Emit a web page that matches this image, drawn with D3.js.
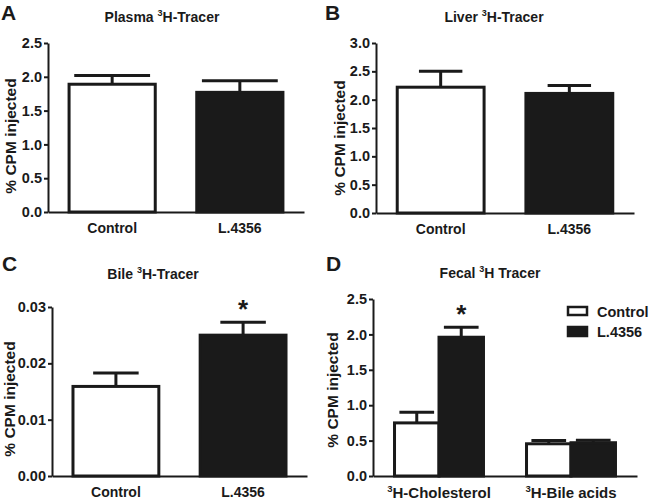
<!DOCTYPE html>
<html>
<head>
<meta charset="utf-8">
<script src="https://cdn.jsdelivr.net/npm/d3@7"></script>
<style>
  html, body { margin: 0; padding: 0; background: #fff; }
  svg { display: block; font-family: Arial, "Liberation Sans", Helvetica, sans-serif; }
</style>
</head>
<body>
<svg id="chart" width="650" height="502"></svg>
<script>
// ---------------- DATA ----------------
const groups = ["Control", "L.4356"];

const plasmaMean = [1.89, 1.77];
const plasmaSEM  = [0.13, 0.17];
const plasmaTicks = [0, 0.5, 1.0, 1.5, 2.0, 2.5];

const liverMean = [2.22, 2.11];
const liverSEM  = [0.28, 0.14];
const liverTicks = [0, 0.5, 1.0, 1.5, 2.0, 2.5, 3.0];

const bileMean = [0.0159, 0.0250];
const bileSEM  = [0.0024, 0.0023];
const bileTicks = [0, 0.01, 0.02, 0.03];
const bileStars = [false, true];

const fecalCategories = ["Cholesterol", "Bile acids"];
const fecalControlMean = [0.75, 0.455];
const fecalControlSEM  = [0.15, 0.045];
const fecalL4356Mean   = [1.96, 0.47];
const fecalL4356SEM    = [0.14, 0.035];
const fecalTicks = [0, 0.5, 1.0, 1.5, 2.0, 2.5];
const fecalStars = [[false, true], [false, false]];

const yLabel = "% CPM injected";
const groupColors = ["#ffffff", "#1a1a1a"];
const ink = "#1a1a1a";

// ---------------- DRAWING ----------------
const svg = d3.select("#chart");

function titleWithSup(g, x, y, pre, post) {
  const t = g.append("text").attr("x", x).attr("y", y)
    .attr("text-anchor", "middle").attr("font-size", 14).attr("font-weight", "bold").attr("fill", ink);
  t.append("tspan").text(pre);
  t.append("tspan").attr("font-size", 9).attr("dy", -6).text("3");
  t.append("tspan").attr("dy", 6).text(post);
}

function drawYAxis(g, y, x0, ticks, fmt, labelX, labelY) {
  const ax = g.append("g").attr("transform", `translate(${x0},0)`)
    .call(d3.axisLeft(y).tickValues(ticks).tickFormat(fmt).tickSize(4).tickSizeOuter(0).tickPadding(2));
  ax.select(".domain").attr("stroke", ink).attr("stroke-width", 2);
  ax.selectAll(".tick line").attr("stroke", ink).attr("stroke-width", 2);
  ax.selectAll(".tick text").attr("font-size", 14.5).attr("font-weight", "bold").attr("fill", ink)
    .attr("font-family", "Arial, 'Liberation Sans', sans-serif");
  g.append("text").attr("transform", `translate(${labelX},${labelY}) rotate(-90)`)
    .attr("text-anchor", "middle").attr("dy", "0.35em")
    .attr("font-size", 15.5).attr("font-weight", "bold").attr("fill", ink).text(yLabel);
}

function drawXAxis(g, x, y0, superscript) {
  const ax = g.append("g").attr("transform", `translate(0,${y0})`)
    .call(d3.axisBottom(x).tickSize(0).tickSizeOuter(0).tickPadding(11));
  ax.select(".domain").attr("stroke", ink).attr("stroke-width", 2);
  ax.selectAll(".tick text").attr("font-size", 14).attr("font-weight", "bold").attr("fill", ink)
    .attr("font-family", "Arial, 'Liberation Sans', sans-serif");
  if (superscript) {
    ax.selectAll(".tick text").each(function(d) {
      const t = d3.select(this);
      t.text(null).attr("dy", null).attr("y", 22).attr("font-size", 15);
      t.append("tspan").attr("font-size", 9.5).attr("dy", -6).text("3");
      t.append("tspan").attr("dy", 6).text("H-" + d);
    });
  }
}

function drawBar(g, x, w, y, mean, sem, fill, capFrac, star) {
  const y0 = y(0);
  const cx = x + w / 2;
  const top = y(mean + sem);
  // error bar (upper only)
  g.append("line").attr("x1", cx).attr("x2", cx).attr("y1", y(mean)).attr("y2", top)
    .attr("stroke", ink).attr("stroke-width", 3);
  g.append("line").attr("x1", cx - w * capFrac / 2).attr("x2", cx + w * capFrac / 2)
    .attr("y1", top).attr("y2", top).attr("stroke", ink).attr("stroke-width", 3);
  g.append("rect").attr("x", x).attr("y", y(mean)).attr("width", w).attr("height", y0 - y(mean))
    .attr("fill", fill).attr("stroke", ink).attr("stroke-width", 3);
  if (star) {
    g.append("text").attr("x", cx).attr("y", top - 4).attr("text-anchor", "middle")
      .attr("font-size", 26).attr("font-weight", "bold").attr("fill", ink).text("*");
  }
}

function letter(x, y, s) {
  svg.append("text").attr("x", x).attr("y", y).attr("font-size", 21).attr("font-weight", "bold")
    .attr("fill", ink).text(s);
}

function simplePanel(opt) {
  const g = svg.append("g");
  const y = d3.scaleLinear().domain([0, opt.max]).range([opt.y0, opt.yTop]);
  const x = d3.scaleBand().domain(groups).range([opt.x0, opt.x1]).paddingInner(0.325).paddingOuter(0.165);
  titleWithSup(g, opt.titleX, opt.titleY, opt.pre, opt.post);
  groups.forEach((grp, i) => {
    drawBar(g, x(grp), x.bandwidth(), y, opt.mean[i], opt.sem[i], groupColors[i], opt.cap, opt.stars ? opt.stars[i] : false);
  });
  drawYAxis(g, y, opt.x0, opt.ticks, opt.fmt, opt.labelX, opt.labelY);
  drawXAxis(g, x, opt.y0, false);
}

// Panel A
letter(1, 20, "A");
simplePanel({ x0: 48, x1: 304, y0: 212, yTop: 43, max: 2.5, mean: plasmaMean, sem: plasmaSEM,
  ticks: plasmaTicks, fmt: d3.format(".1f"), cap: 0.88, titleX: 162, titleY: 22,
  pre: "Plasma ", post: "H-Tracer", labelX: 11, labelY: 136 });

// Panel B
letter(325, 20, "B");
simplePanel({ x0: 376, x1: 634, y0: 213, yTop: 43, max: 3.0, mean: liverMean, sem: liverSEM,
  ticks: liverTicks, fmt: d3.format(".1f"), cap: 0.5, titleX: 494, titleY: 22,
  pre: "Liver ", post: "H-Tracer", labelX: 340, labelY: 138 });

// Panel C
letter(2, 271, "C");
simplePanel({ x0: 52, x1: 307, y0: 476, yTop: 307, max: 0.03, mean: bileMean, sem: bileSEM,
  ticks: bileTicks, fmt: d3.format(".2f"), cap: 0.53, titleX: 153, titleY: 279, stars: bileStars,
  pre: "Bile ", post: "H-Tracer", labelX: 10, labelY: 399 });

// Panel D (grouped)
letter(326, 271, "D");
(function() {
  const g = svg.append("g");
  const x0 = 373, x1 = 637, yB = 476, yT = 299;
  const y = d3.scaleLinear().domain([0, 2.5]).range([yB, yT]);
  const x = d3.scaleBand().domain(fecalCategories).range([x0, x1]).paddingInner(0.326).paddingOuter(0.163);
  const xs = d3.scaleBand().domain(groups).range([0, x.bandwidth()]);
  titleWithSup(g, 490, 278, "Fecal ", "H Tracer");
  const means = [fecalControlMean, fecalL4356Mean];
  const sems = [fecalControlSEM, fecalL4356SEM];
  fecalCategories.forEach((cat, ci) => {
    groups.forEach((grp, gi) => {
      drawBar(g, x(cat) + xs(grp), xs.bandwidth(), y, means[gi][ci], sems[gi][ci], groupColors[gi], 0.78, fecalStars[ci][gi]);
    });
  });
  drawYAxis(g, y, x0, fecalTicks, d3.format(".1f"), 333, 390);
  drawXAxis(g, x, yB, true);

  // legend
  const lg = g.append("g");
  groups.forEach((grp, i) => {
    const ly = 311 + i * 20;
    lg.append("rect").attr("x", 568).attr("y", ly - 4).attr("width", 19).attr("height", i === 0 ? 8 : 9)
      .attr("fill", groupColors[i]).attr("stroke", ink).attr("stroke-width", 2.5);
    lg.append("text").attr("x", 597).attr("y", ly + 6).attr("font-size", 14.5).attr("font-weight", "bold")
      .attr("fill", ink).text(grp);
  });
})();
</script>
</body>
</html>
